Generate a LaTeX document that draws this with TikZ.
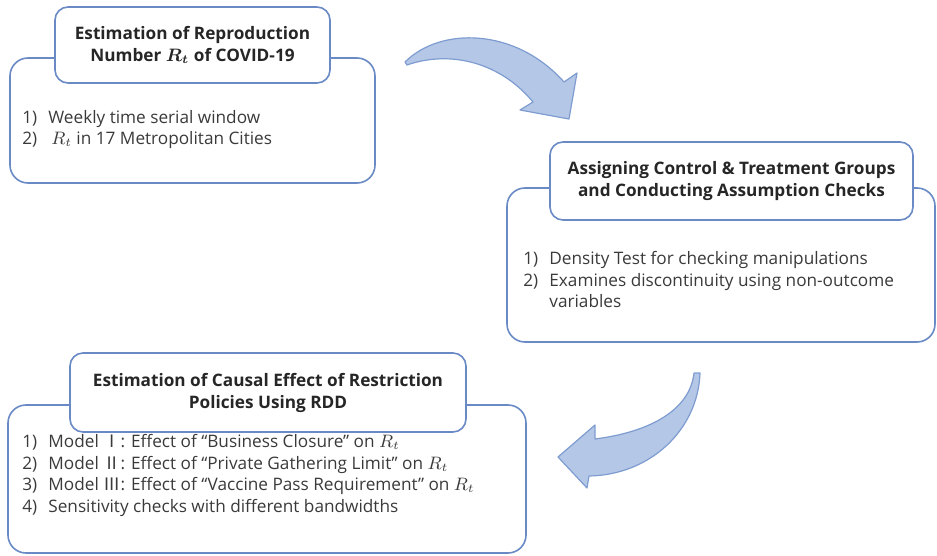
\documentclass[tikz,border=0pt]{standalone}
\usepackage{amsmath}
\usepackage{bm}
\usepackage{fontspec}
\setmainfont{Open Sans}
\newfontfamily\krfont{Noto Sans CJK KR}
\definecolor{boxblue}{HTML}{6A8AC6}
\definecolor{arrowfill}{HTML}{B4C7E7}
\definecolor{arrowline}{HTML}{7E9CD0}
\definecolor{listgray}{HTML}{3A3A3A}
\newcommand{\lnum}[1]{\makebox[13pt][l]{#1}}
\newcommand{\rmnum}[1]{{\krfont #1}}

\tikzset{
  panel/.style={draw=boxblue, line width=0.8pt, rounded corners=9pt},
  titlebox/.style={draw=boxblue, fill=white, line width=0.8pt, rounded corners=6.5pt,
    align=center, font=\bfseries\fontsize{8.6}{11}\selectfont, text=black!85},
  listtext/.style={anchor=north west, inner sep=0pt, align=left,
    font=\fontsize{8.6}{10.75}\selectfont, text=listgray},
  blockarrow/.style={draw=arrowline, fill=arrowfill, line width=0.6pt, line join=round}
}

\begin{document}
\begin{tikzpicture}[x=0.5pt,y=-0.5pt]
\useasboundingbox (0,0) rectangle (937,556);

% step 1
\node[panel, minimum width=182.5pt, minimum height=62.5pt] (rt) at (192.5,120.5) {};
\node[titlebox, minimum width=137.5pt, minimum height=38pt] (rttitle) at (192.5,45)
  {Estimation of Reproduction\\Number $\bm{R_t}$ of COVID-19};
\node[listtext] (rtlist) at (22,110)
  {\lnum{1)}Weekly time serial window\\
   \lnum{2)}\,$R_t$ in 17 Metropolitan Cities};

% step 2
\node[panel, minimum width=214pt, minimum height=77pt] (grp) at (721,265) {};
\node[titlebox, minimum width=181.5pt, minimum height=39pt] (grptitle) at (731.5,181)
  {Assigning Control \& Treatment Groups\\and Conducting Assumption Checks};
\node[listtext] (grplist) at (523,251)
  {\lnum{1)}Density Test for checking manipulations\\
   \lnum{2)}Examines discontinuity using non-outcome\\
   \lnum{}variables};

% step 3
\node[panel, minimum width=259pt, minimum height=74pt] (rdd) at (267,479) {};
\node[titlebox, minimum width=198pt, minimum height=39.5pt] (rddtitle) at (268,392.5)
  {Estimation of Causal Effect of Restriction\\Policies Using RDD};
\node[listtext] (rddlist) at (22,434)
  {\lnum{1)}Model \rmnum{Ⅰ}: Effect of “Business Closure” on $R_t$\\
   \lnum{2)}Model \rmnum{Ⅱ}: Effect of “Private Gathering Limit” on $R_t$\\
   \lnum{3)}Model \rmnum{Ⅲ}: Effect of “Vaccine Pass Requirement” on $R_t$\\
   \lnum{4)}Sensitivity checks with different bandwidths};

% curved arrows
\draw[blockarrow] (405,62) .. controls (440,27) and (515,27) .. (564,82)
  -- (577,73) -- (569,119) -- (520,110) -- (533,102)
  .. controls (500,62) and (450,50) .. (407,65) -- cycle;
\draw[blockarrow] (700,373) .. controls (698,430) and (650,475) .. (589,476)
  -- (587,488) -- (558,457) -- (595,425) -- (595,439)
  .. controls (650,432) and (690,410) .. (694,373) -- cycle;

\end{tikzpicture}
\end{document}
